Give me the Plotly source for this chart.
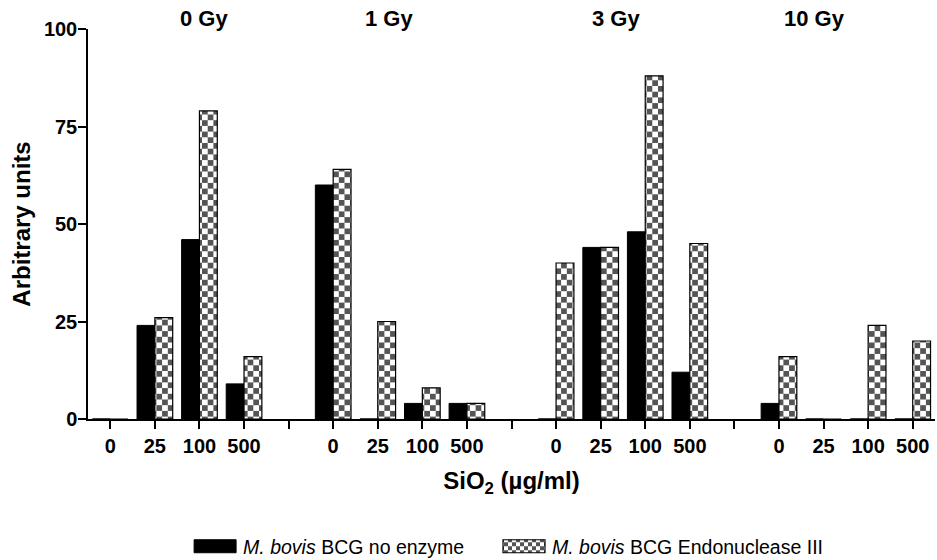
import plotly.graph_objects as go

# Dose groups and SiO2 concentrations (µg/ml)
doses = ["0 Gy", "1 Gy", "3 Gy", "10 Gy"]
concentrations = ["0", "25", "100", "500"]

# Arbitrary units, ordered dose by dose, concentration by concentration
no_enzyme = [0, 24, 46, 9,
             60, 0, 4, 4,
             0, 44, 48, 12,
             4, 0, 0, 0]
endonuclease_iii = [0, 26, 79, 16,
                    64, 25, 8, 4,
                    40, 44, 88, 45,
                    16, 0, 24, 20]

y_ticks = [0, 25, 50, 75, 100]

# x layout: each dose group takes four slots followed by one empty slot
slot = len(concentrations) + 1
x_pos = [g * slot + c for g in range(len(doses)) for c in range(len(concentrations))]
tick_labels = concentrations * len(doses)
last_pos = slot * len(doses) - 2
dose_label_x = [2.1, 6.25, 11.35, 15.8]

FONT = "Liberation Sans, Arial, Helvetica, sans-serif"
CELL = 5.7  # checkerboard cell size in px

fig = go.Figure()
fig.add_trace(go.Bar(
    x=x_pos, y=no_enzyme,
    name="<i>M. bovis</i> BCG no enzyme",
    legend="legend",
    marker=dict(color="#000000", line=dict(color="#000000", width=1)),
))
fig.add_trace(go.Bar(
    x=x_pos, y=endonuclease_iii,
    name="<i>M. bovis</i> BCG Endonuclease III",
    legend="legend2",
    marker=dict(
        color="#ffffff",
        line=dict(color="#000000", width=1.2),
        pattern=dict(shape=".", fgcolor="#555555", bgcolor="#ffffff",
                     size=2 * CELL, solidity=0.5, fillmode="replace"),
    ),
))

for label, xv in zip(doses, dose_label_x):
    fig.add_annotation(x=xv, y=1, xref="x", yref="paper", yanchor="bottom",
                       text=f"<b>{label}</b>", showarrow=False, yshift=-4,
                       font=dict(family=FONT, size=22, color="#000000"))

legend_style = dict(orientation="h", xanchor="left",
                    yref="container", y=0.024, yanchor="middle",
                    font=dict(family=FONT, size=19.5, color="#000000"),
                    itemwidth=46, bgcolor="rgba(0,0,0,0)")

fig.update_layout(
    width=937, height=560,
    margin=dict(l=88, r=2, t=29, b=141, autoexpand=False),
    paper_bgcolor="#ffffff", plot_bgcolor="#ffffff",
    barmode="group", bargap=0.2, bargroupgap=0,
    showlegend=True,
    legend=dict(x=0.117, **legend_style),
    legend2=dict(x=0.4817, **legend_style),
    font=dict(family=FONT, color="#000000"),
)
fig.update_xaxes(
    range=[-0.5, last_pos + 0.5],
    tickmode="array", tickvals=x_pos, ticktext=tick_labels,
    ticks="outside", ticklen=8, tickwidth=1.5, tickcolor="#000000",
    minor=dict(tickmode="linear", tick0=0, dtick=1, ticks="outside",
               ticklen=8, tickwidth=1.5, tickcolor="#000000", showgrid=False),
    showline=True, linecolor="#000000", linewidth=1.5,
    showgrid=False, zeroline=False,
    tickfont=dict(family=FONT, size=20, color="#000000", weight="bold"),
    title=dict(text="<b>SiO<sub>2</sub> (µg/ml)</b>", standoff=16,
               font=dict(family=FONT, size=24, color="#000000")),
)
fig.update_yaxes(
    range=[0, 100], tickmode="array", tickvals=y_ticks,
    ticks="outside", ticklen=8, tickwidth=1.5, tickcolor="#000000",
    ticklabelstandoff=-3,
    showline=True, linecolor="#000000", linewidth=1.5,
    showgrid=False, zeroline=False,
    tickfont=dict(family=FONT, size=20, color="#000000", weight="bold"),
    title=dict(text="<b>Arbitrary units</b>", standoff=6,
               font=dict(family=FONT, size=24, color="#000000")),
)

# Turn the pattern tiles into a true two-cell checkerboard and widen the
# legend swatches into short bars.
post = """
var gd = document.getElementById('{plot_id}');
var NS = 'http://www.w3.org/2000/svg';
function restyle() {
  gd.querySelectorAll('defs pattern').forEach(function (p) {
    if (p.getAttribute('data-checker')) return;
    var w = parseFloat(p.getAttribute('width'));
    var s = w / 2;
    var bg = '#ffffff', fg = '#555555';
    var r0 = p.querySelector('rect'); if (r0) bg = r0.getAttribute('fill') || bg;
    var c0 = p.querySelector('circle'); if (c0) fg = c0.getAttribute('fill') || fg;
    while (p.firstChild) p.removeChild(p.firstChild);
    [[0, 0, w, w, bg], [0, 0, s, s, fg], [s, s, s, s, fg]].forEach(function (a) {
      var r = document.createElementNS(NS, 'rect');
      r.setAttribute('x', a[0]); r.setAttribute('y', a[1]);
      r.setAttribute('width', a[2]); r.setAttribute('height', a[3]);
      r.setAttribute('fill', a[4]);
      p.appendChild(r);
    });
    p.setAttribute('data-checker', '1');
  });
  gd.querySelectorAll('.legendpoints path').forEach(function (el) {
    el.setAttribute('d', 'M21,6.5H-21V-6.5H21Z');
  });
}
restyle();
gd.on('plotly_afterplot', restyle);
"""

fig.write_html("out.html", post_script=post)
